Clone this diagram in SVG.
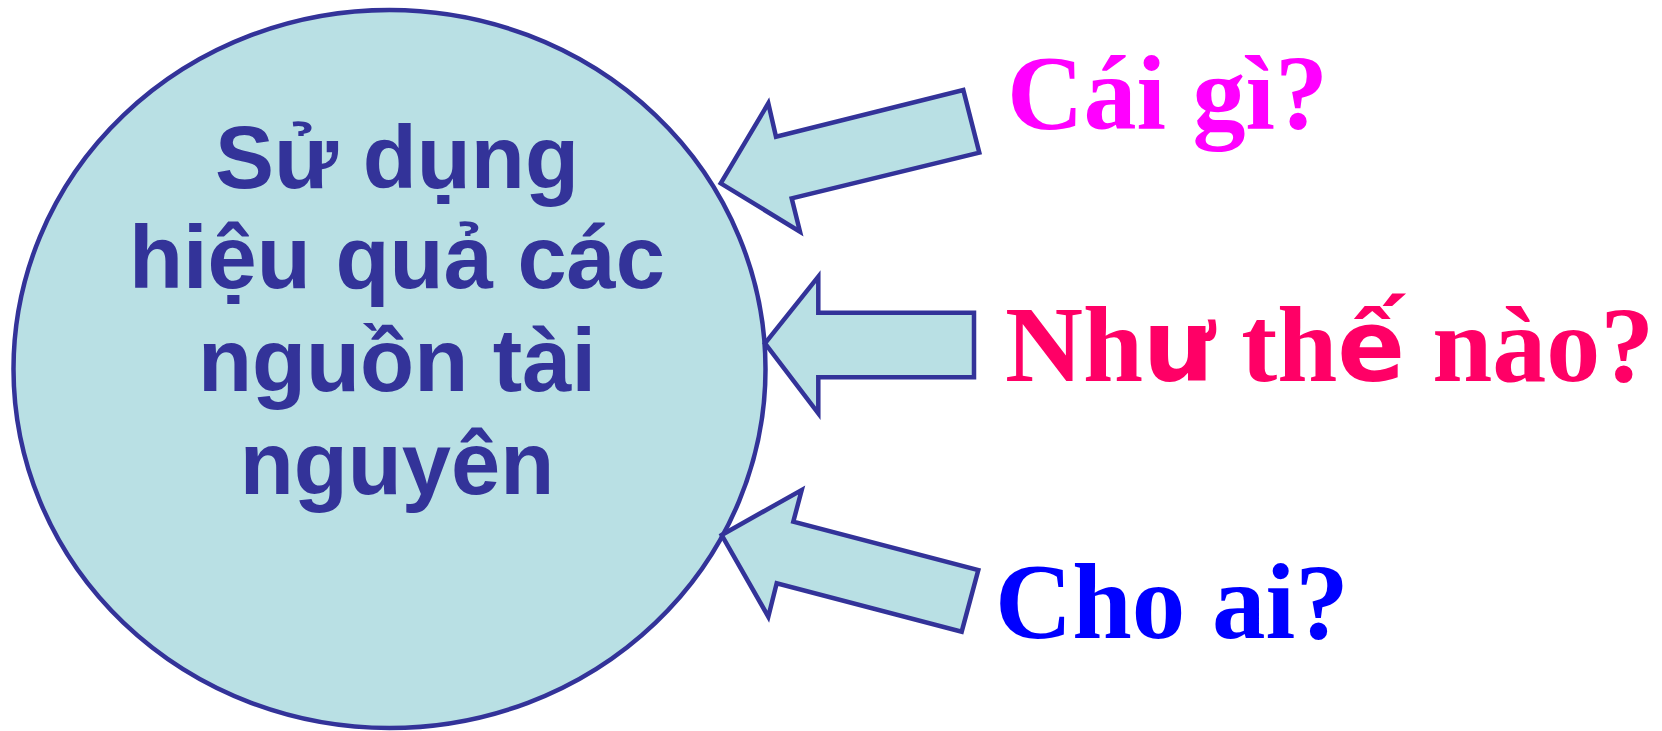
<svg xmlns="http://www.w3.org/2000/svg" width="1662" height="731" viewBox="0 0 1662 731">
<style>
.shape{fill:#B9E0E4;stroke:#333399;stroke-width:4.5;stroke-linejoin:miter}
.main{font-family:"Liberation Sans",Arial,sans-serif;font-weight:bold;font-size:88.5px;fill:#333399;text-anchor:middle}
.q{font-family:"Liberation Serif","Times New Roman",serif;font-weight:bold}
.alt{font-family:"DejaVu Sans",sans-serif;font-weight:bold}
</style>
<rect width="1662" height="731" fill="#FFFFFF"/>
<g id="center-node">
<ellipse class="shape" cx="389.5" cy="369" rx="376" ry="359"/>
<text class="main" x="397" y="188">Sử dụng</text>
<text class="main" x="397" y="288">hiệu quả các</text>
<text class="main" x="397" y="391">nguồn tài</text>
<text class="main" x="397" y="494">nguyên</text>
</g>
<g id="connectors">
<polygon class="shape" points="720.7,183.3 768.3,103.3 776,136.7 963.3,90 979.3,152.7 791.7,198.3 800,231.7"/>
<polygon class="shape" points="765,343.3 818.3,276.7 818.3,312.7 974,312.7 974,377.3 818.3,377.3 818.3,413.3"/>
<polygon class="shape" points="721.7,535 801.7,490 793.3,521.7 978.3,570 961.7,631.7 776.7,583.3 768.3,616.7"/>
</g>
<g id="q-what">
<text class="q" x="1007" y="129" font-size="106" fill="#FF00FF">Cái gì?</text>
</g>
<g id="q-how">
<text class="q" x="1005" y="381" font-size="108" fill="#FF0066">Nh<tspan class="alt" font-size="100">ư</tspan> th<tspan class="alt" font-size="100">ế</tspan> nào?</text>
</g>
<g id="q-whom">
<text class="q" x="995" y="638" font-size="107" fill="#0000FF">Cho ai?</text>
</g>
</svg>
